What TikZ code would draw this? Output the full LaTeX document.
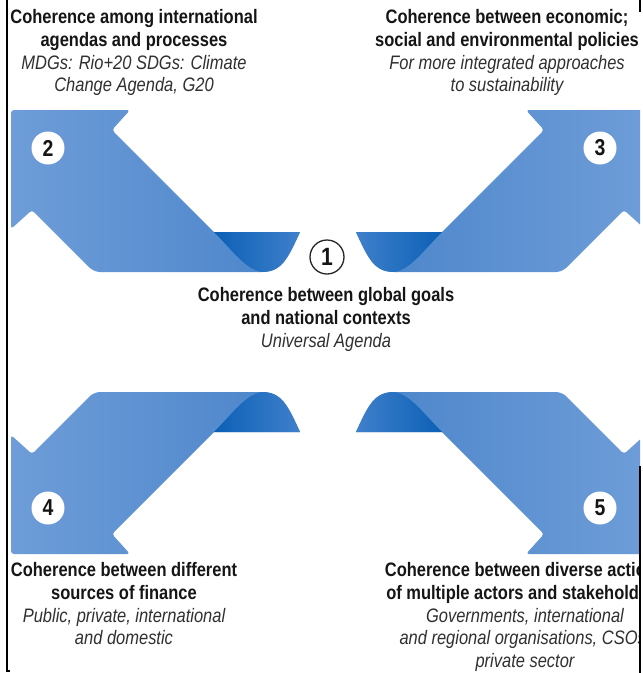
\documentclass[tikz,border=0pt]{standalone}
\usepackage{fontspec}
\setmainfont{Liberation Sans}[FakeStretch=0.845]
\definecolor{lightB}{HTML}{6E9DD8}
\definecolor{midB}{HTML}{4A84CA}
\definecolor{darkB}{HTML}{0C60B6}
\definecolor{foldL}{HTML}{3F80CB}
\definecolor{txt}{HTML}{151515}
\definecolor{itxt}{HTML}{303030}
\newcommand\ribbonshape[4]{%
  \path[left color=#1,right color=#2]
    [rounded corners=3pt] (11,110) -- (130,110) -- (112,130) [sharp corners] -- (214,232) -- (300,232)
    .. controls (288,258) and (282,272) .. (262,272) [rounded corners=6pt] -- (94,272) [rounded corners=3pt] -- (32,210) -- (11,229) -- cycle;
  \path[left color=#3,right color=#4]
    (214,232) -- (300,232) .. controls (288,258) and (282,272) .. (262,272)
    .. controls (246,270) and (232,250) .. (214,232) -- cycle;
}
\tikzset{
  lbl/.style={align=center, inner sep=0pt, anchor=north, font=\fontsize{19.5}{22.6}\selectfont},
  numc/.style={circle, fill=white, minimum size=33pt, inner sep=0pt, text=txt, font=\fontsize{23}{23}\selectfont\bfseries},
  onec/.style={circle, fill=white, draw=black!85, line width=1.3pt, minimum size=34pt, inner sep=0pt, text=txt, font=\fontsize{25}{25}\selectfont\bfseries},
  border/.style={line width=1.5pt, black}
}
\begin{document}
\begin{tikzpicture}[x=1pt,y=-1pt]
\useasboundingbox (0,0) rectangle (643,673);
\fill[white] (0,0) rectangle (643,673);
\begin{scope}
\clip (0,0) rectangle (640,673);
% arrow 2 (top-left)
\ribbonshape{lightB}{midB}{darkB}{foldL}
% arrow 3 (top-right)
\begin{scope}[xshift=656pt, xscale=-1]
\ribbonshape{midB}{lightB}{foldL}{darkB}
\end{scope}
% arrow 4 (bottom-left)
\begin{scope}[yshift=-664pt, yscale=-1]
\ribbonshape{lightB}{midB}{darkB}{foldL}
\end{scope}
% arrow 5 (bottom-right)
\begin{scope}[xshift=656pt, xscale=-1, yshift=-664pt, yscale=-1]
\ribbonshape{midB}{lightB}{foldL}{darkB}
\end{scope}

\node[numc] (n2) at (48,148) {2};
\node[numc] (n3) at (600,148) {3};
\node[numc] (n4) at (48,508) {4};
\node[numc] (n5) at (600,508) {5};
\node[onec] (n1) at (327,257) {1};

\node[lbl] (t2) at (134,9.5) {\textcolor{txt}{\bfseries Coherence among international}\\
  \textcolor{txt}{\bfseries agendas and processes}\\
  \textcolor{itxt}{\itshape MDGs: Rio+20 SDGs: Climate}\\
  \textcolor{itxt}{\itshape Change Agenda, G20}};
\node[lbl] (t3) at (507,9.5) {\textcolor{txt}{\bfseries Coherence between economic;}\\
  \textcolor{txt}{\bfseries social and environmental policies}\\
  \textcolor{itxt}{\itshape For more integrated approaches}\\
  \textcolor{itxt}{\itshape to sustainability}};
\node[lbl] (t1) at (326,287.5) {\textcolor{txt}{\bfseries Coherence between global goals}\\
  \textcolor{txt}{\bfseries and national contexts}\\
  \textcolor{itxt}{\itshape Universal Agenda}};
\node[lbl] (t4) at (124,562.5) {\textcolor{txt}{\bfseries Coherence between different}\\
  \textcolor{txt}{\bfseries sources of finance}\\
  \textcolor{itxt}{\itshape Public, private, international}\\
  \textcolor{itxt}{\itshape and domestic}};
\node[lbl] (t5) at (525,562.5) {\textcolor{txt}{\bfseries Coherence between diverse actions}\\
  \textcolor{txt}{\bfseries of multiple actors and stakeholders}\\
  \textcolor{itxt}{\itshape Governments, international}\\
  \textcolor{itxt}{\itshape and regional organisations, CSOs,}\\
  \textcolor{itxt}{\itshape private sector}};
\end{scope}
\draw[border] (7,0) -- (7,671) -- (10,671);
\draw[border] (640,0) -- (640,12);
\draw[border] (640,466) -- (640,673);
\end{tikzpicture}
\end{document}
